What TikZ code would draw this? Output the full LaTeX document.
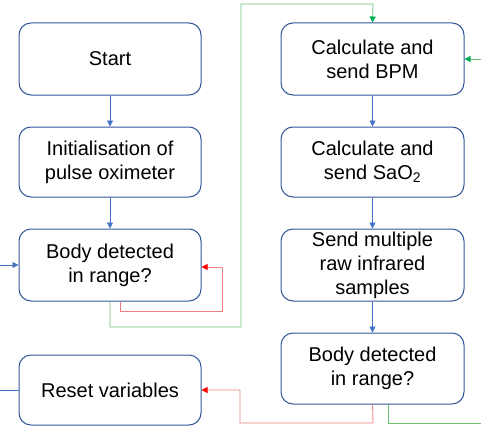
\documentclass[tikz,border=0pt]{standalone}
\usepackage{fontspec}
\setmainfont{Liberation Sans}
\usetikzlibrary{arrows.meta}
\definecolor{boxblue}{HTML}{2F5597}
\definecolor{lineblue}{HTML}{4472C4}
\definecolor{linered}{HTML}{F08080}
\definecolor{headred}{HTML}{FF0000}
\definecolor{linegreen}{HTML}{70C070}
\definecolor{headgreen}{HTML}{00B050}
\begin{document}
\begin{tikzpicture}[x=1pt,y=-1pt,
  stepbox/.style={draw=boxblue,line width=1pt,rounded corners=12pt,minimum width=182pt,minimum height=72pt,align=center,font=\fontsize{20}{24}\selectfont,inner sep=0pt},
  blueline/.style={draw=lineblue,line width=0.8pt},
  redline/.style={draw=linered,line width=0.8pt},
  greenline/.style={draw=linegreen,line width=0.8pt},
  bluetip/.style={-{Triangle[length=6pt,width=6pt,fill=lineblue]}},
  redtip/.style={-{Triangle[length=6pt,width=6pt,color=headred]}},
  greentip/.style={-{Triangle[length=6pt,width=6pt,color=headgreen]}}]
\useasboundingbox (0,0) rectangle (481,428);
\node[stepbox] (start) at (110,59) {Start};
\node[stepbox,minimum height=70pt] (init) at (110,162) {Initialisation of\\pulse oximeter};
\node[stepbox] (body1) at (110,265) {Body detected\\in range?};
\node[stepbox,minimum height=70pt] (reset) at (110,390) {Reset variables};
\node[stepbox,minimum width=183pt] (bpm) at (372.5,59) {Calculate and\\send BPM};
\node[stepbox,minimum width=183pt,minimum height=70pt] (sao) at (372.5,162) {Calculate and\\send SaO\textsubscript{2}};
\node[stepbox,minimum width=183pt] (raw) at (372.5,265) {Send multiple\\raw infrared\\samples};
\node[stepbox,minimum width=183pt,minimum height=71pt] (body2) at (372.5,368.5) {Body detected\\in range?};
\coordinate (leftin) at (0,265);
\coordinate (leftout) at (0,390);
\coordinate (rightin) at (481,59);
\coordinate (rightout) at (481,423);
\draw[blueline,bluetip] (start) -- (init);
\draw[blueline,bluetip] (init) -- (body1);
\draw[blueline,bluetip] (leftin) -- (body1.west);
\draw[blueline] (reset.west) -- (leftout);
\draw[blueline,bluetip] (bpm) -- (sao);
\draw[blueline,bluetip] (sao) -- (raw);
\draw[blueline,bluetip] (raw) -- (body2);
\draw[redline,redtip] (body1.south -| 120,0) -- (120,311) -- (222,311) -- (222,267) -- (body1.east |- 0,267);
\draw[greenline,greentip] (body1.south) -- (110,327) -- (241,327) -- (241,4) -- (373,4) -- (bpm.north);
\draw[greenline,greentip] (rightin) -- (bpm.east);
\draw[redline,redtip] (body2.south) -- (373,423) -- (240,423) -- (240,390) -- (reset.east);
\draw[greenline] (body2.south -| 388,0) -- (388,423) -- (rightout);
\end{tikzpicture}
\end{document}
